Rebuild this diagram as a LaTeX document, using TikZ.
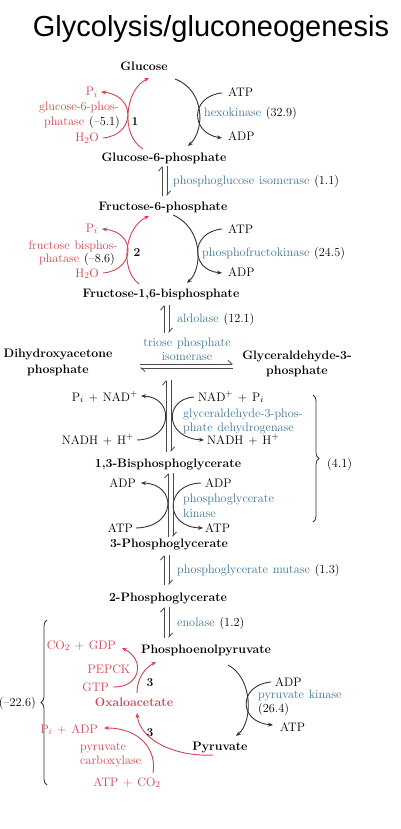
\documentclass[tikz,border=0pt]{standalone}
\usepackage{fontspec}
\setmainfont{Latin Modern Roman}[WordSpace=1.2]
\newfontfamily\titlefont{Liberation Sans}
\usetikzlibrary{arrows.meta,decorations.pathreplacing}
\definecolor{gred}{HTML}{D2434F}
\definecolor{eblue}{HTML}{3D7597}
\definecolor{gk}{HTML}{333333}
\definecolor{eqgray}{HTML}{4A4A4A}
\begin{document}
\begin{tikzpicture}[x=1pt,y=-1pt,
  met/.style={font=\fontsize{12.3}{14}\selectfont\bfseries, inner sep=0pt, anchor=base},
  lab/.style={font=\fontsize{12.3}{14}\selectfont, inner sep=0pt},
  rlab/.style={lab, text=gred},
  num/.style={font=\fontsize{12}{14}\selectfont\bfseries, inner sep=0pt, anchor=base},
  flow/.style={gk, line width=0.9pt, -{Stealth[length=5pt,width=4pt]}},
  rflow/.style={gred, line width=0.9pt, -{Stealth[length=5pt,width=4pt]}},
  harp/.style={eqgray, line width=0.8pt, -{Straight Barb[harpoon,length=4pt,width=7pt]}},
  brc/.style={gk, line width=0.8pt, decorate, decoration={brace, amplitude=6pt}}
]
\useasboundingbox (0,0) rectangle (400,829);
\fill[white] (0,0) rectangle (400,829);

% title
\node[font=\titlefont\fontsize{29}{32}\selectfont, inner sep=0pt, anchor=base] (title) at (211,37) {Glycolysis/gluconeogenesis};

% metabolites
\node[met] (glc) at (144,71) {Glucose};
\node[met] (g6p) at (164,161) {Glucose-6-phosphate};
\node[met] (f6p) at (163,210) {Fructose-6-phosphate};
\node[met] (fbp) at (161,297) {Fructose-1,6-bisphosphate};
\node[met] (dhapa) at (58,357) {Dihydroxyacetone};
\node[met] (dhapb) at (58,373) {phosphate};
\node[met] (gapa) at (297,359) {Glyceraldehyde-3-};
\node[met] (gapb) at (297,374) {phosphate};
\node[met] (bpg) at (168,467) {1,3-Bisphosphoglycerate};
\node[met] (pga3) at (169,547) {3-Phosphoglycerate};
\node[met] (pga2) at (168,601) {2-Phosphoglycerate};
\node[met] (pep) at (206,653) {Phosphoenolpyruvate};
\node[met, text=gred] (oaa) at (134,706) {Oxaloacetate};
\node[met] (pyr) at (220,750) {Pyruvate};

% step 1 labels
\node[lab, anchor=base west] (atp1) at (228,97) {ATP};
\node[lab, anchor=base west] (adp1) at (228,141) {ADP};
\node[lab, anchor=base west] (hk) at (204,117) {\textcolor{eblue}{hexokinase} (32.9)};
\node[rlab, anchor=base east] (pi1) at (98,96) {P$_i$};
\node[rlab, anchor=base] (g6pa) at (79,111) {glucose-6-phos-};
\node[lab, anchor=base] (g6pb) at (82,126) {\textcolor{gred}{phatase} (--5.1)};
\node[rlab, anchor=base east] (h2o1) at (99,142) {H$_2$O};
\node[num] (n1) at (135,126) {1};

% isomerase
\node[lab, anchor=base west] (pgi) at (173,184) {\textcolor{eblue}{phosphoglucose isomerase} (1.1)};

% step 2 labels
\node[lab, anchor=base west] (atp2) at (228,233) {ATP};
\node[lab, anchor=base west] (adp2) at (228,276) {ADP};
\node[lab, anchor=base west] (pfk) at (202,256) {\textcolor{eblue}{phosphofructokinase} (24.5)};
\node[rlab, anchor=base east] (pi2) at (98,232) {P$_i$};
\node[rlab, anchor=base] (fbpa) at (73,249) {fructose bisphos-};
\node[lab, anchor=base] (fbpb) at (77,262) {\textcolor{gred}{phatase} (--8.6)};
\node[rlab, anchor=base east] (h2o2) at (99,277) {H$_2$O};
\node[num] (n2) at (137,256) {2};

% aldolase, TPI
\node[lab, anchor=base west] (ald) at (177,322) {\textcolor{eblue}{aldolase} (12.1)};
\node[lab, anchor=base, text=eblue] (tpia) at (187,346) {triose phosphate};
\node[lab, anchor=base, text=eblue] (tpib) at (187,360) {isomerase};

% GAPDH
\node[lab, anchor=base east] (pinad) at (138,401) {P$_i$ + NAD$^+$};
\node[lab, anchor=base west] (nadpi) at (198,401) {NAD$^+$ + P$_i$};
\node[lab, anchor=base west, text=eblue] (gapdha) at (183,417) {glyceraldehyde-3-phos-};
\node[lab, anchor=base west, text=eblue] (gapdhb) at (183,431) {phate dehydrogenase};
\node[lab, anchor=base east] (nadhl) at (134,444) {NADH + H$^+$};
\node[lab, anchor=base west] (nadhr) at (207,444) {NADH + H$^+$};

% PGK
\node[lab, anchor=base east] (adpl) at (136,487) {ADP};
\node[lab, anchor=base west] (adpr) at (205,487) {ADP};
\node[lab, anchor=base west, text=eblue] (pgka) at (183,502) {phosphoglycerate};
\node[lab, anchor=base west, text=eblue] (pgkb) at (183,517) {kinase};
\node[lab, anchor=base east] (atpl) at (133,532) {ATP};
\node[lab, anchor=base west] (atpr) at (205,532) {ATP};

% brackets
\draw[brc] (313,395) -- (313,522);
\node[lab, anchor=base west] (k41) at (327,467) {(4.1)};
\draw[brc] (47,785) -- (47,620);
\node[lab, anchor=base east] (k226) at (36,706) {(--22.6)};

% mutase, enolase
\node[lab, anchor=base west] (pgm) at (177,573) {\textcolor{eblue}{phosphoglycerate mutase} (1.3)};
\node[lab, anchor=base west] (eno) at (177,626) {\textcolor{eblue}{enolase} (1.2)};

% PEPCK
\node[rlab, anchor=base east] (co2gdp) at (116,649) {CO$_2$ + GDP};
\node[rlab, anchor=base] (pepck) at (109,673) {PEPCK};
\node[rlab, anchor=base east] (gtp) at (109,691) {GTP};
\node[num] (n3a) at (150,686) {3};

% pyruvate carboxylase
\node[rlab, anchor=base east] (piadp) at (98,733) {P$_i$ + ADP};
\node[num] (n3b) at (150,736) {3};
\node[rlab, anchor=base west] (pca) at (80,750) {pyruvate};
\node[rlab, anchor=base west] (pcb) at (80,764) {carboxylase};
\node[rlab, anchor=base] (atpco2) at (127,786) {ATP + CO$_2$};

% pyruvate kinase
\node[lab, anchor=base west] (adp3) at (275,686) {ADP};
\node[lab, anchor=base west, text=eblue] (pka) at (258,698) {pyruvate kinase};
\node[lab, anchor=base west] (pkb) at (258,712) {(26.4)};
\node[lab, anchor=base west] (atp3) at (280,731) {ATP};

% ---- coordinates for curved arrows
\coordinate (hk1) at (175,79);  \coordinate (hk2) at (188,146);
\coordinate (hks) at (222,93);  \coordinate (hke) at (222,138);
\coordinate (gp1) at (143,149); \coordinate (gp2) at (149,78);
\coordinate (gps) at (103,138); \coordinate (gpe) at (101,92);
\coordinate (pf1) at (173,215); \coordinate (pf2) at (187,283);
\coordinate (pfs) at (222,229); \coordinate (pfe) at (222,273);
\coordinate (fb1) at (139,284); \coordinate (fb2) at (149,216);
\coordinate (fbs) at (103,273); \coordinate (fbe) at (102,229);
\coordinate (gl1) at (137,440); \coordinate (gl2) at (141,396);
\coordinate (gr1) at (194,397); \coordinate (gr2) at (204,440);
\coordinate (kl1) at (136,528); \coordinate (kl2) at (141,483);
\coordinate (kr1) at (201,483); \coordinate (kr2) at (203,528);
\coordinate (pk1) at (228,665); \coordinate (pk2) at (236,736);
\coordinate (pks) at (271,682); \coordinate (pke) at (273,725);
\coordinate (pc1) at (137,693); \coordinate (pc2) at (156,662);
\coordinate (pcs) at (113,687); \coordinate (pce) at (122,648);
\coordinate (py1) at (213,755); \coordinate (py2) at (137,713);
\coordinate (pys) at (153,773); \coordinate (pye) at (104,728);

% step 1
\draw[flow] (hk1) .. controls (205,90) and (205,130) .. (hk2);
\draw[flow] (hks) .. controls (190,96) and (190,133) .. (hke);
\draw[rflow] (gp1) .. controls (120,135) and (125,90) .. (gp2);
\draw[rflow] (gps) .. controls (136,135) and (136,95) .. (gpe);
% step 2
\draw[flow] (pf1) .. controls (203,228) and (203,268) .. (pf2);
\draw[flow] (pfs) .. controls (190,232) and (190,270) .. (pfe);
\draw[rflow] (fb1) .. controls (120,270) and (124,228) .. (fb2);
\draw[rflow] (fbs) .. controls (136,270) and (136,232) .. (fbe);
% GAPDH
\draw[flow] (gl1) .. controls (174,439) and (174,397) .. (gl2);
\draw[flow] (gr1) .. controls (164,399) and (164,438) .. (gr2);
% PGK
\draw[flow] (kl1) .. controls (177,527) and (177,484) .. (kl2);
\draw[flow] (kr1) .. controls (164,484) and (164,527) .. (kr2);
% PK
\draw[flow] (pk1) .. controls (253,678) and (253,722) .. (pk2);
\draw[flow] (pks) .. controls (238,685) and (238,722) .. (pke);
% PEPCK
\draw[rflow] (pc1) .. controls (137,678) and (145,668) .. (pc2);
\draw[rflow] (pcs) .. controls (140,688) and (146,660) .. (pce);
% PC
\draw[rflow] (py1) .. controls (175,757) and (140,740) .. (py2);
\draw[rflow] (pys) .. controls (157,750) and (140,728) .. (pye);

% equilibrium harpoons
\draw[harp] (162,196) -- (162,166);
\draw[harp] (167,166) -- (167,196);
\draw[harp] (164,333) -- (164,305);
\draw[harp] (169,305) -- (169,333);
\draw[harp] (166,452) -- (166,380);
\draw[harp] (171,380) -- (171,452);
\draw[harp] (168,537) -- (168,473);
\draw[harp] (173,473) -- (173,537);
\draw[harp] (164,585) -- (164,555);
\draw[harp] (169,555) -- (169,585);
\draw[harp] (164,638) -- (164,607);
\draw[harp] (169,607) -- (169,638);
\draw[harp] (140,364) -- (233,364);
\draw[harp] (233,368) -- (140,368);
\end{tikzpicture}
\end{document}
